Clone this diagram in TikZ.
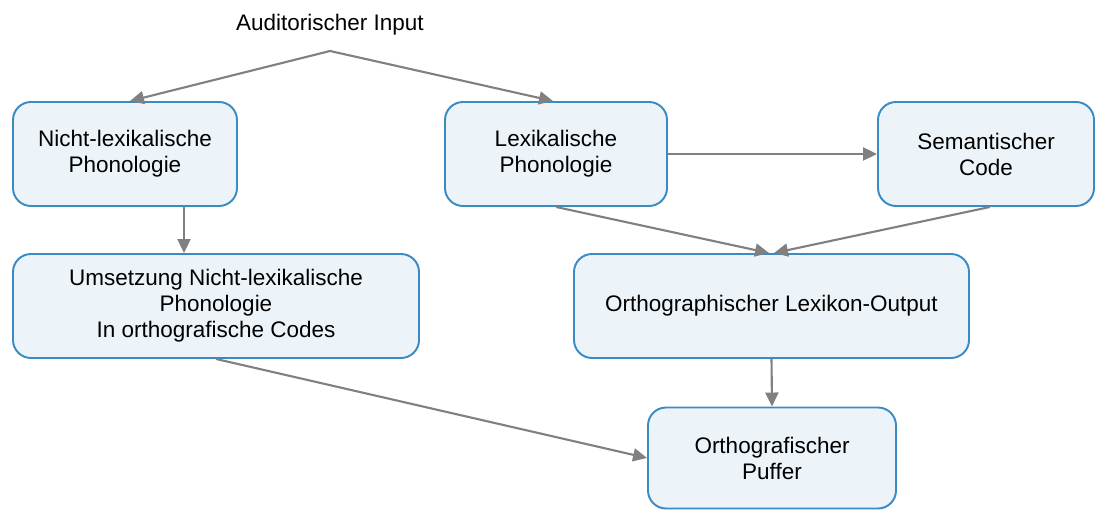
\documentclass[tikz,border=0pt]{standalone}
\usepackage{fontspec}
\setmainfont{Liberation Sans}
\usetikzlibrary{arrows.meta}

\definecolor{boxblue}{HTML}{3A8AC4}
\definecolor{boxfill}{HTML}{EDF4F9}
\definecolor{arrowgray}{HTML}{808080}

\tikzset{
  stage/.style={draw=boxblue, fill=boxfill, line width=1.1pt, rounded corners=0.36cm,
    align=center, font=\fontsize{12.8}{14.8}\selectfont, inner sep=0pt, minimum height=2.08cm},
  flow/.style={draw=arrowgray, line width=1.2pt, -{Triangle[length=0.28cm,width=0.26cm]}}
}

\begin{document}
\begin{tikzpicture}
  \useasboundingbox (0,0) rectangle (21.92,10.22);
  % Input label and branch point
  \node[font=\fontsize{12.8}{14.8}\selectfont] (input) at (6.60,9.72) {Auditorischer Input};
  \coordinate (split) at (6.60,9.20);
  % Top row
  \node[stage, minimum width=4.48cm] (nl) at (2.50,7.14) {Nicht-lexikalische\\Phonologie};
  \node[stage, minimum width=4.44cm] (lex) at (11.12,7.14) {Lexikalische\\Phonologie};
  \node[stage, minimum width=4.32cm] (sem) at (19.72,7.14) {Semantischer\\Code};
  % Middle row
  \node[stage, minimum width=8.12cm] (um) at (4.32,4.10) {Umsetzung Nicht-lexikalische\\Phonologie\\In orthografische Codes};
  \node[stage, minimum width=7.90cm] (olex) at (15.43,4.10) {Orthographischer Lexikon-Output};
  % Bottom row
  \node[stage, minimum width=4.96cm, minimum height=2.02cm] (puffer) at (15.44,1.06) {Orthografischer\\Puffer};
  % Connectors
  \draw[flow] (split) -- ([xshift=0.1cm]nl.north);
  \draw[flow] (split) -- ([xshift=-0.06cm]lex.north);
  \draw[flow] (lex.east) -- (sem.west);
  \draw[flow] ([xshift=1.18cm]nl.south) -- ([xshift=1.18cm]nl.south |- um.north);
  \draw[flow] (lex.south) -- ([xshift=-0.05cm]olex.north);
  \draw[flow] ([xshift=0.08cm]sem.south) -- ([xshift=0.05cm]olex.north);
  \draw[flow] (um.south) -- (puffer.west);
  \draw[flow] (olex.south) -- (puffer.north);
\end{tikzpicture}
\end{document}
